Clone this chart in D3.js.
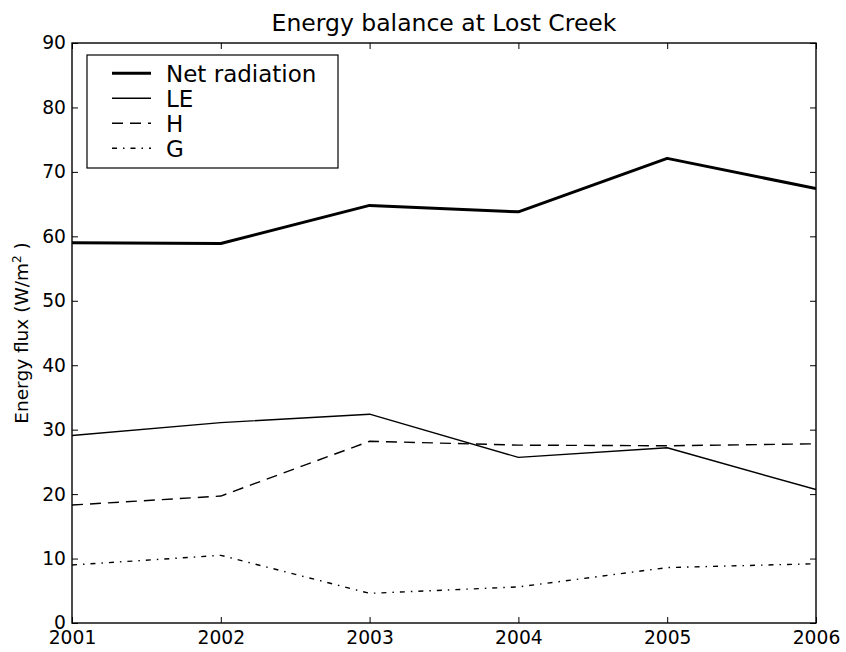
<!DOCTYPE html>
<html>
<head>
<meta charset="utf-8">
<script src="https://cdn.jsdelivr.net/npm/d3@7/dist/d3.min.js"></script>
<style>
  html, body { margin: 0; padding: 0; background: #fff; }
  svg { display: block; font-family: "DejaVu Sans", sans-serif; }
</style>
</head>
<body>
<svg id="chart" width="846" height="652"></svg>
<script>
// Annual mean energy-balance components at Lost Creek (W/m²)
const years = [2001, 2002, 2003, 2004, 2005, 2006];
const netRadiation = [59.0, 58.9, 64.8, 63.8, 72.1, 67.4];
const latentHeat = [29.1, 31.1, 32.4, 25.7, 27.2, 20.7];
const sensibleHeat = [18.3, 19.7, 28.2, 27.6, 27.5, 27.8];
const groundHeat = [9.0, 10.5, 4.6, 5.6, 8.6, 9.2];
const yTicks = [0, 10, 20, 30, 40, 50, 60, 70, 80, 90];

const series = [
  { name: "Net radiation", values: netRadiation, width: 3, dash: null },
  { name: "LE", values: latentHeat, width: 1.4, dash: null },
  { name: "H", values: sensibleHeat, width: 1.4, dash: "11,7" },
  { name: "G", values: groundHeat, width: 1.4, dash: "5,6,1.5,6" }
];

const svg = d3.select("#chart");
const W = 846, H = 652;
const margin = { top: 43, right: 30, bottom: 29, left: 72 };
const x0 = margin.left, x1 = W - margin.right;
const y0 = H - margin.bottom, y1 = margin.top;

const x = d3.scaleLinear().domain([2001, 2006]).range([x0, x1]);
const y = d3.scaleLinear().domain([0, 90]).range([y0, y1]);

// data lines, clipped to the axes box
svg.append("clipPath").attr("id", "plotClip")
  .append("rect").attr("x", x0).attr("y", y1).attr("width", x1 - x0).attr("height", y0 - y1);

const line = d3.line().x(d => x(d[0])).y(d => y(d[1]));
const plot = svg.append("g").attr("clip-path", "url(#plotClip)");
series.forEach(s => {
  plot.append("path")
    .datum(years.map((yr, i) => [yr, s.values[i]]))
    .attr("d", line)
    .attr("fill", "none")
    .attr("stroke", "#000")
    .attr("stroke-width", s.width)
    .attr("stroke-linejoin", "round")
    .attr("stroke-dasharray", s.dash);
});

// axes with inward ticks on all four sides
const tickFont = "18.7px";
const styleAxis = g => {
  g.select(".domain").remove();
  g.selectAll(".tick line").attr("stroke", "#000").attr("stroke-width", 1);
  g.selectAll(".tick text").attr("fill", "#000").style("font-size", tickFont)
    .style("font-family", "'DejaVu Sans', sans-serif");
};

svg.append("g").attr("transform", `translate(0,${y0})`)
  .call(d3.axisBottom(x).tickValues(years).tickFormat(d3.format("d"))
    .tickSizeInner(-6).tickSizeOuter(0).tickPadding(8))
  .call(styleAxis);

svg.append("g").attr("transform", `translate(0,${y1})`)
  .call(d3.axisTop(x).tickValues(years).tickFormat("")
    .tickSizeInner(-6).tickSizeOuter(0))
  .call(styleAxis);

svg.append("g").attr("transform", `translate(${x0},0)`)
  .call(d3.axisLeft(y).tickValues(yTicks).tickFormat(d3.format("d"))
    .tickSizeInner(-6).tickSizeOuter(0).tickPadding(6))
  .call(styleAxis);

svg.append("g").attr("transform", `translate(${x1},0)`)
  .call(d3.axisRight(y).tickValues(yTicks).tickFormat("")
    .tickSizeInner(-6).tickSizeOuter(0))
  .call(styleAxis);

// axes frame
svg.append("rect")
  .attr("x", x0).attr("y", y1).attr("width", x1 - x0).attr("height", y0 - y1)
  .attr("fill", "none").attr("stroke", "#000").attr("stroke-width", 1.4);

// title
svg.append("text")
  .attr("x", (x0 + x1) / 2).attr("y", 31)
  .attr("text-anchor", "middle")
  .style("font-size", "23.5px")
  .text("Energy balance at Lost Creek");

// y axis label
const yl = svg.append("text")
  .attr("transform", `translate(28,${(y0 + y1) / 2}) rotate(-90)`)
  .attr("text-anchor", "middle")
  .style("font-size", "18.5px");
yl.append("tspan").text("Energy flux (W/m");
yl.append("tspan").attr("baseline-shift", "super").style("font-size", "12px").text("2");
yl.append("tspan").text(" )");

// legend
const legend = svg.append("g");
legend.append("rect")
  .attr("x", 87).attr("y", 55).attr("width", 251).attr("height", 113)
  .attr("fill", "#fff").attr("stroke", "#000").attr("stroke-width", 1.2);
series.forEach((s, i) => {
  const ly = 73.3 + i * 25;
  legend.append("line")
    .attr("x1", 112).attr("x2", 151).attr("y1", ly).attr("y2", ly)
    .attr("stroke", "#000").attr("stroke-width", s.width)
    .attr("stroke-dasharray", s.dash);
  legend.append("text")
    .attr("x", 166).attr("y", ly).attr("dy", "0.36em")
    .style("font-size", "23px")
    .text(s.name);
});
</script>
</body>
</html>
